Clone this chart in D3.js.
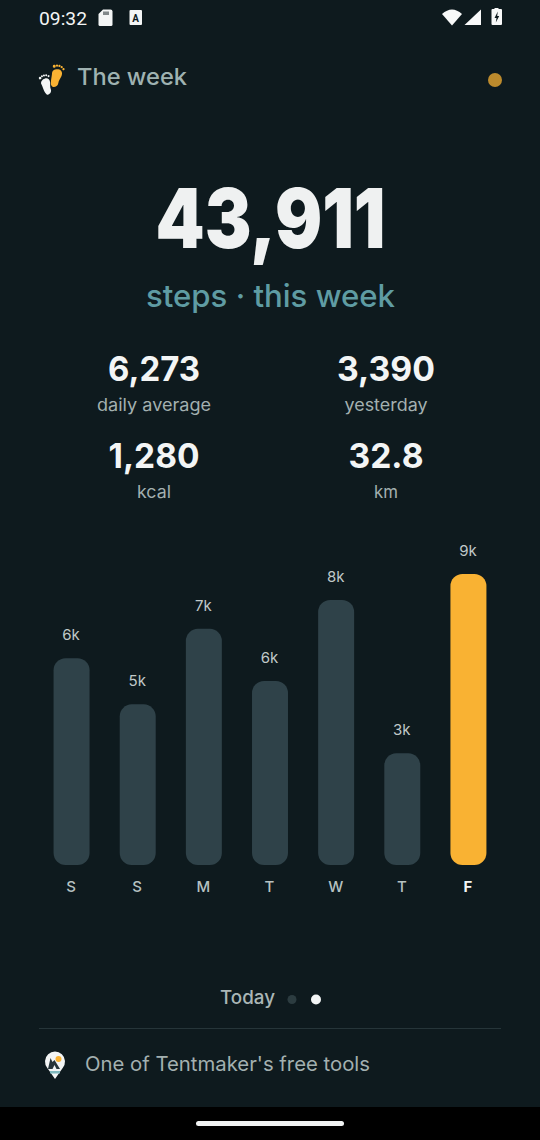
<!DOCTYPE html>
<html><head><meta charset="utf-8">
<script src="https://cdn.jsdelivr.net/npm/d3@7"></script>
<style>html,body{margin:0;padding:0;background:#0e1a1e;overflow:hidden}svg{display:block}text{font-family:Inter,"Noto Sans",sans-serif}</style>
</head><body><div id="c"></div>
<script>
const days=["S","S","M","T","W","T","F"];
const steps=[6220,4830,7100,5530,7970,3360,8750];
const barLabels=["6k","5k","7k","6k","8k","3k","9k"];
const highlightIndex=6;
const statValues=["6,273","3,390","1,280","32.8"];
const statNames=["daily average","yesterday","kcal","km"];
const statValueWidths=[92,98,91,75];
const statNameWidths=[114,83,34,24];
const W=540,H=1140,BG="#0e1a1e";
const svg=d3.select("#c").append("svg").attr("width",W).attr("height",H);
svg.append("rect").attr("width",W).attr("height",H).attr("fill",BG);
svg.append("rect").attr("y",1107).attr("width",W).attr("height",33).attr("fill","#000");
svg.append("rect").attr("x",196).attr("y",1121).attr("width",148).attr("height",5).attr("rx",2.5).attr("fill","#f1f3f3");
function t(x,y,s,size,fill,weight,anchor,len,family){const e=svg.append("text").attr("x",x).attr("y",y).text(s).attr("font-size",size).attr("fill",fill).attr("font-weight",weight||400).attr("text-anchor",anchor||"middle");if(len)e.attr("textLength",len).attr("lengthAdjust","spacingAndGlyphs");if(family)e.style("font-family",family);return e;}
// status bar
t(39,25,"09:32",19,"#f3f5f5",400,"start",48,"Roboto");
svg.append("path").attr("d","M103 9.500h7.500a2 2 0 0 1 2 2V24.500a1.500 1.500 0 0 1-1.500 1.500H100a1.500 1.500 0 0 1-1.500-1.500V14z").attr("fill","#f3f5f5");
svg.append("path").attr("d","M103.500 11.500h1v3.500h-1zM105.500 11.500h1v3.500h-1zM107.500 11.500h1v3.500h-1z").attr("fill",BG);
svg.append("rect").attr("x",129.500).attr("y",10).attr("width",12.500).attr("height",15).attr("rx",1).attr("fill","#f3f5f5");
t(135.700,21.500,"A",10,BG,700,"middle",null,"Roboto");
svg.append("path").attr("d","M442 14Q452 5 462 14L452 25.500z").attr("fill","#f8f9f9");
svg.append("path").attr("d","M481 9.500V25H464.500z").attr("fill","#f8f9f9");
svg.append("path").attr("d","M491.500 10a1 1 0 0 1 1-1h2V8h4v1h2.500a1 1 0 0 1 1 1V24a1 1 0 0 1-1 1h-8.500a1 1 0 0 1-1-1z").attr("fill","#f8f9f9");
svg.append("path").attr("d","M497.800 11.500l-3.300 6.500h2L495.800 22.500l3.400-6.500h-2z").attr("fill",BG);
// header footprints
const foot=(g,c)=>{g.append("path").attr("d","M-4.500-3C-5-6.500-2-8 .5-8C3.500-8 5.500-6 4.800-2.500C4.300 0 3 2 3.200 5C3.400 8-.5 10.500-2.500 8.500C-4.500 6.500-4-.5-4.500-3z").attr("fill",c);
 [[-3.800,-10],[-1.400,-11.200],[.9,-11.400],[3.200,-10.800],[5.300,-9.200]].forEach((p,i)=>g.append("circle").attr("cx",p[0]).attr("cy",p[1]).attr("r",i?1.050:1.400).attr("fill",c));};
foot(svg.append("g").attr("transform","translate(56,77.500) rotate(12) scale(1.060)"),"#f9b233");
foot(svg.append("g").attr("transform","translate(46.500,86) rotate(-18) scale(.95)"),"#f4f6f6");
t(77,85,"The week",23.500,"#9fb2b1",500,"start",110);
svg.append("circle").attr("cx",495).attr("cy",80).attr("r",7).attr("fill","#bd8b2d");
// hero
t(270.500,248,"43,911",83,"#eff1f1",900,"middle",230);
t(270.500,307,"steps · this week",31,"#5f9ca3",500,"middle",249);
// stats
const sx=[154,386],sy=[381,468];
statValues.forEach((s,i)=>{const x=sx[i%2],y=sy[i>>1];
 t(x,y,s,34,"#f3f5f5",700,"middle",statValueWidths[i]);
 t(x,y+30,statNames[i],17,"#a3b0b0",400,"middle",statNameWidths[i]);});
// chart
const baseY=865,topY=574;
const x=d3.scaleBand().domain(d3.range(days.length)).range([38.5,501.5]).paddingInner(.456).paddingOuter(.228);
const y=d3.scaleLinear().domain([0,d3.max(steps)]).range([baseY,topY]);
svg.append("g").selectAll("rect").data(steps).join("rect")
 .attr("x",(d,i)=>x(i)).attr("y",d=>y(d)).attr("width",x.bandwidth()).attr("height",d=>baseY-y(d)).attr("rx",12)
 .attr("fill",(d,i)=>i===highlightIndex?"#f9b233":"#2f4249");
svg.append("g").selectAll("text").data(steps).join("text")
 .attr("x",(d,i)=>x(i)+x.bandwidth()/2-.5).attr("y",d=>y(d)-18).attr("text-anchor","middle")
 .attr("font-size",15).attr("fill","#c0c9c9").text((d,i)=>barLabels[i]);
const ax=svg.append("g").attr("transform",`translate(0,${baseY})`).call(d3.axisBottom(x).tickSize(0).tickPadding(16).tickFormat(i=>days[i]));
ax.select(".domain").remove();
ax.selectAll("text").attr("dx",-.5).style("font-size","15px").style("font-family","Inter").attr("fill",i=>i===highlightIndex?"#f3f5f5":"#b6c1c1").attr("font-weight",i=>i===highlightIndex?700:500);
// pager
t(247.500,1004,"Today",18.500,"#aab6b6",500,"middle",55);
svg.append("circle").attr("cx",292).attr("cy",999.500).attr("r",4.500).attr("fill","#2c3c40");
svg.append("circle").attr("cx",316).attr("cy",999.500).attr("r",5).attr("fill","#f3f5f5");
svg.append("line").attr("x1",39).attr("x2",501).attr("y1",1028.500).attr("y2",1028.500).attr("stroke","#263539");
// tentmaker pin
svg.append("path").attr("d","M55 1079L47.300 1068A10 10 0 1 1 62.700 1068z").attr("fill","#f3f5f5");
svg.append("circle").attr("cx",58.500).attr("cy",1059).attr("r",3).attr("fill","#f9b233");
svg.append("path").attr("d","M48 1069L50.500 1058L52.500 1062L54.500 1060L60 1069H56.500L54.500 1065L52.500 1069z").attr("fill","#26343a");
svg.append("rect").attr("x",50).attr("y",1071).attr("width",10).attr("height",2.500).attr("fill","#7fb8bd");
t(85,1071,"One of Tentmaker's free tools",20,"#a3b0b0",400,"start",285);
</script></body></html>
